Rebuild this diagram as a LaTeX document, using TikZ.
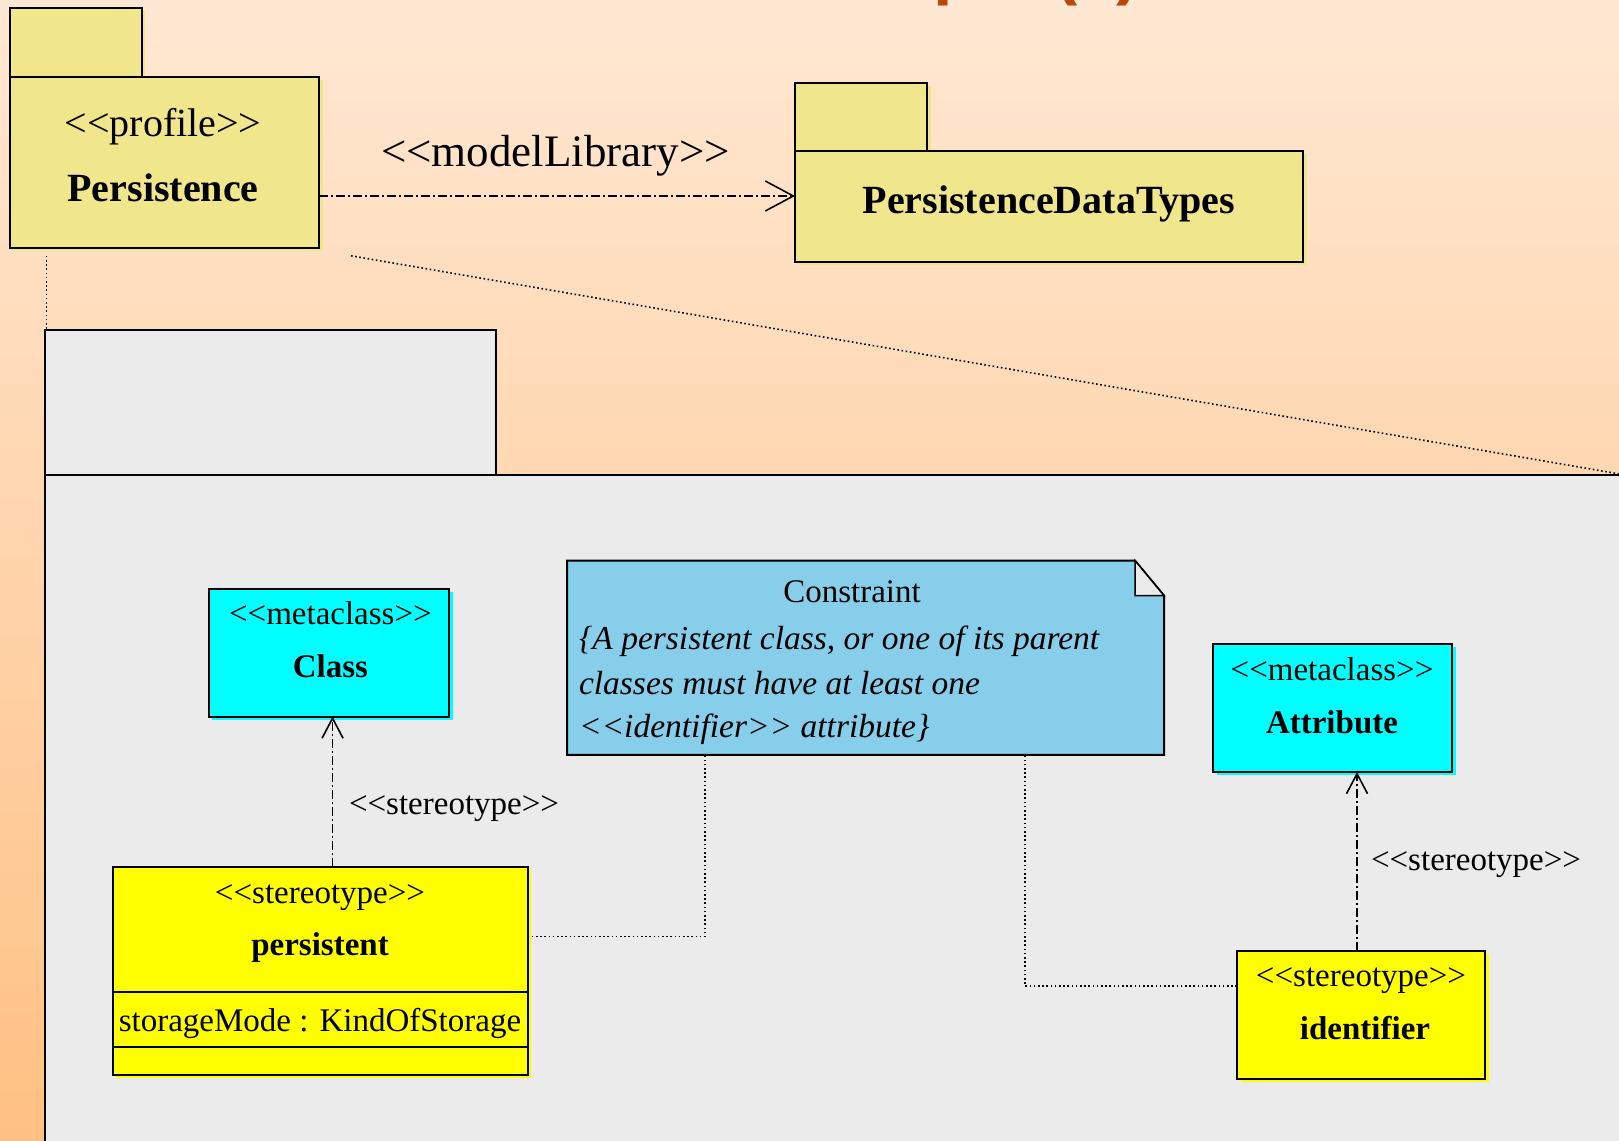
\documentclass[tikz,border=0pt]{standalone}
\usepackage{fontspec}
\setmainfont{Liberation Serif}
\newfontfamily\titlefont{Liberation Sans}
\usetikzlibrary{arrows.meta,shadows}
\newcommand\gopen{<{}<}
\newcommand\gclose{>{}>}
\definecolor{bgtop}{HTML}{FFE8D3}
\definecolor{bgbot}{HTML}{FFC083}
\definecolor{khakifill}{HTML}{F0E68C}
\definecolor{pkggray}{HTML}{EBEBEB}
\definecolor{metacyan}{HTML}{00FFFF}
\definecolor{notefill}{HTML}{87CEEB}
\definecolor{stereofill}{HTML}{FFFF00}
\definecolor{titlecol}{RGB}{184,72,8}
\tikzset{
  box/.style={draw=black, line width=2pt, inner sep=0pt, outer sep=0pt, anchor=north west},
  shad/.style={drop shadow={shadow xshift=3.5pt, shadow yshift=-3pt, fill=#1, opacity=1}},
  txt/.style={inner sep=0pt, outer sep=0pt, anchor=base, font=\fontsize{33}{40}\selectfont},
  pkgtxt/.style={inner sep=0pt, outer sep=0pt, anchor=base, font=\fontsize{40}{48}\selectfont},
  depline/.style={line width=1.6pt, dash pattern=on 9pt off 3pt on 2pt off 3pt},
  dotline/.style={line width=1.6pt, dash pattern=on 1.6pt off 2.6pt},
}
\begin{document}
\begin{tikzpicture}[x=1pt,y=-1pt]
\useasboundingbox (0,0) rectangle (1619,1140);
\clip (0,0) rectangle (1619,1140);
\shade[top color=bgtop, bottom color=bgbot] (0,0) rectangle (1619,1140);

% cut-off title
\node[anchor=base east, inner sep=0pt, text=titlecol, font=\titlefont\bfseries\fontsize{70}{80}\selectfont] (title) at (1140,-8) {Profile Example (1)};

% packages
\node[box, fill=khakifill, shad=khakifill, minimum width=131.2pt, minimum height=69.1pt] (ptab) at (10.3,8.3) {};
\node[box, fill=khakifill, shad=khakifill, minimum width=308.7pt, minimum height=170.4pt] (pbody) at (10.3,77.4) {};
\node[pkgtxt] (ptxt1) at (163,136) {\gopen profile\gclose};
\node[pkgtxt] (ptxt2) at (163,201) {\bfseries Persistence};

\node[box, fill=khakifill, shad=khakifill, minimum width=132pt, minimum height=68.1pt] (dtab) at (795,82.6) {};
\node[box, fill=khakifill, shad=khakifill, minimum width=508pt, minimum height=111.6pt] (dbody) at (795,150.7) {};
\node[pkgtxt] (dtxt) at (1049,213) {\bfseries PersistenceDataTypes};

\draw[depline, -{Straight Barb[length=28pt, width=30pt, line width=1.6pt]}]
  ([yshift=-33.4pt]pbody.east) -- ([yshift=-33.4pt]pbody.east -| dbody.west);
\node[inner sep=0pt, anchor=base, font=\fontsize{45}{54}\selectfont] (mlib) at (555.5,166) {\gopen modelLibrary\gclose};

% expansion lines
\node[box, fill=pkggray, minimum width=450.2pt, minimum height=145.6pt] (gtab) at (45.4,330.4) {};
\node[box, fill=pkggray, minimum width=1580pt, minimum height=700pt] (gbody) at (45.4,475) {};
\draw[dotline] ([xshift=36.2pt, yshift=-8pt]pbody.south west) -- ([xshift=36.2pt]pbody.south west |- gtab.north);
\draw[dotline] ([xshift=32pt, yshift=-8pt]pbody.south east) -- (gbody.north east);

% metaclasses
\node[box, fill=metacyan, shad=metacyan, minimum width=240.4pt, minimum height=128pt] (cls) at (208.6,588.5) {};
\node[txt] (clst1) at (330.4,624) {\gopen metaclass\gclose};
\node[txt] (clst2) at (330.4,677) {\bfseries Class};

\node[box, fill=metacyan, shad=metacyan, minimum width=239pt, minimum height=128pt] (attr) at (1213,644) {};
\node[txt] (attrt1) at (1332,680) {\gopen metaclass\gclose};
\node[txt] (attrt2) at (1332,733) {\bfseries Attribute};

% note
\node[inner sep=0pt, outer sep=0pt, anchor=north west, minimum width=597pt, minimum height=194.2pt] (note) at (567,560.6) {};
\draw[line width=2pt, fill=notefill] (note.north west) -- ([xshift=-29pt]note.north east) -- ([yshift=-35pt]note.north east) -- (note.south east) -- (note.south west) -- cycle;
\draw[line width=1.5pt, fill=pkggray] ([xshift=-29pt]note.north east) -- ([xshift=-29pt, yshift=-35pt]note.north east) -- ([yshift=-35pt]note.north east) -- cycle;
\node[txt] (notet0) at (852,602) {Constraint};
\node[txt, anchor=base west, font=\fontsize{33.5}{40}\selectfont] (notet1) at (579,649) {\itshape \{A persistent class, or one of its parent};
\node[txt, anchor=base west, font=\fontsize{33.5}{40}\selectfont] (notet2) at (579,694) {\itshape classes must have at least one};
\node[txt, anchor=base west, font=\fontsize{33.5}{40}\selectfont] (notet3) at (579,737) {\itshape \gopen identifier\gclose{} attribute\}};

% stereotypes
\node[box, fill=stereofill, shad=stereofill, minimum width=415.1pt, minimum height=208pt] (pers) at (112.5,867) {};
\draw[line width=2pt] ([yshift=-125pt]pers.north west) -- ([yshift=-125pt]pers.north east);
\draw[line width=2pt] ([yshift=-180pt]pers.north west) -- ([yshift=-180pt]pers.north east);
\node[txt] (perst1) at (320,903) {\gopen stereotype\gclose};
\node[txt] (perst2) at (320,955) {\bfseries persistent};
\node[txt] (perst3) at (320,1031) {storageMode : KindOfStorage};

\node[box, fill=stereofill, shad=stereofill, minimum width=248pt, minimum height=128pt] (iden) at (1237,951) {};
\node[txt] (ident1) at (1361,986) {\gopen stereotype\gclose};
\node[txt] (ident2) at (1365,1039) {\bfseries identifier};

% dependencies
\draw[depline, -{Straight Barb[length=20pt, width=21pt, line width=1.6pt]}]
  ([xshift=12.5pt]pers.north) -- ([xshift=12.5pt]pers.north |- cls.south);
\node[txt, anchor=base west] (lab1) at (349,814) {\gopen stereotype\gclose};
\draw[depline, -{Straight Barb[length=20pt, width=21pt, line width=1.6pt]}]
  ([xshift=-4pt]iden.north) -- ([xshift=-4pt]iden.north |- attr.south);
\node[txt, anchor=base west] (lab2) at (1371,870) {\gopen stereotype\gclose};

% note anchors
\draw[dotline] ([yshift=34.5pt]pers.east) -| ([xshift=138pt]note.south west);
\draw[dotline] ([yshift=29pt]iden.west) -| ([xshift=458pt]note.south west);
\end{tikzpicture}
\end{document}
